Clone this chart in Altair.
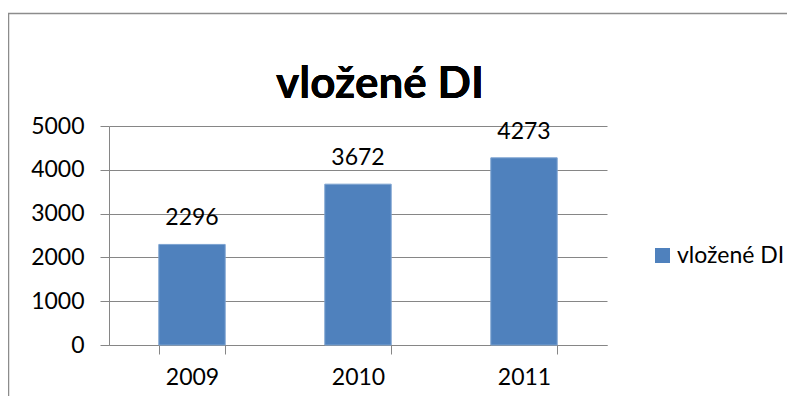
import altair as alt
import pandas as pd

years = ["2009", "2010", "2011"]
values = [2296, 3672, 4273]
series_name = "vložené DI"
title_text = "vložené DI"
y_ticks = [0, 1000, 2000, 3000, 4000, 5000]

df = pd.DataFrame({"rok": years, "hodnota": values, "serie": [series_name] * len(years)})

FONT = "Lato"
BLUE = "#4F81BD"
GRID = "#868686"

base = alt.Chart(df)

x_enc = alt.X(
    "rok:N",
    sort=years,
    scale=alt.Scale(paddingInner=0.6, paddingOuter=0.3),
    axis=alt.Axis(
        title=None, labelAngle=0, tickBand="extent", tickSize=9,
        labelPadding=12, labelFontSize=23, labelFont=FONT, labelColor="#000000",
        domainColor=GRID, tickColor=GRID, grid=False,
    ),
)
y_enc = alt.Y(
    "hodnota:Q",
    scale=alt.Scale(domain=[0, 5000], nice=False),
    axis=alt.Axis(
        title=None, values=y_ticks, format="d", tickSize=9, labelPadding=16,
        labelFontSize=23, labelFont=FONT, labelColor="#000000",
        domainColor=GRID, tickColor=GRID, gridColor=GRID, grid=True,
    ),
)

bars = base.mark_bar(stroke="#7DA3D1", strokeWidth=1).encode(
    x=x_enc,
    y=y_enc,
    color=alt.Color(
        "serie:N",
        scale=alt.Scale(range=[BLUE]),
        legend=alt.Legend(
            title=None, orient="none", legendX=542, legendY=118,
            symbolType="square", symbolSize=225, symbolStrokeWidth=0,
            labelFontSize=23, labelFont=FONT, labelColor="#000000",
            labelOffset=3, labelLimit=300, padding=0,
        ),
    ),
)

labels = base.mark_text(
    baseline="alphabetic", dy=-19, fontSize=23, font=FONT, color="#000000"
).encode(x=alt.X("rok:N", sort=years), y="hodnota:Q", text="hodnota:Q")

title = base.mark_text(
    fontSize=44, font=FONT, fontWeight="bold", baseline="alphabetic", color="#000000"
).encode(x=alt.value(271), y=alt.value(-28), text=alt.value(title_text))

frame = alt.Chart(pd.DataFrame({"k": [0]})).mark_rect(
    fill=None, filled=False, stroke="#8c8c8c", strokeWidth=1.5
).encode(
    x=alt.value(-100.5), x2=alt.value(900), y=alt.value(-112.5), y2=alt.value(500)
)

chart = alt.layer(bars, labels, title, frame).properties(
    width=498,
    height=219,
    autosize=alt.AutoSizeParams(type="none"),
    padding={"left": 101, "top": 118, "right": 180, "bottom": 51},
    background="white",
).configure_view(stroke=None)

chart.save("out.html", embed_options={"renderer": "svg", "actions": False})
